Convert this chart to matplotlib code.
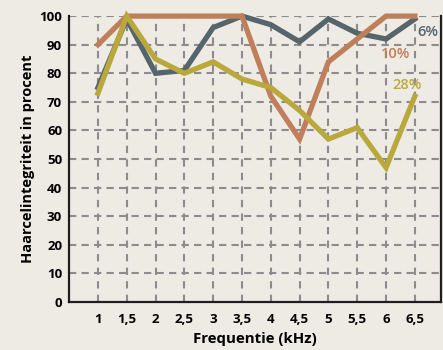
import matplotlib.pyplot as plt
import numpy as np

plt.rcParams['font.family'] = ['Open Sans', 'DejaVu Sans']

freq = [1, 1.5, 2, 2.5, 3, 3.5, 4, 4.5, 5, 5.5, 6, 6.5]
freq_labels = ['1', '1,5', '2', '2,5', '3', '3,5', '4', '4,5', '5', '5,5', '6', '6,5']
pct_6 = [75, 99, 80, 81, 96, 100, 97, 91, 99, 94, 92, 99]
pct_10 = [90, 100, 100, 100, 100, 100, 72, 57, 84, 92, 100, 100]
pct_28 = [73, 100, 85, 80, 84, 78, 75, 67, 57, 61, 47, 72]
series_names = ['6%', '10%', '28%']

bg = '#eeeae4'
colors = ['#56646c', '#c07f5b', '#b9a93c']

fig = plt.figure(figsize=(4.43, 3.5), dpi=100, facecolor=bg)
ax = fig.add_axes([0.156, 0.137, 0.839, 0.817], facecolor=bg)

for x in freq:
    ax.axvline(x, color='#8c8c8c', lw=1.5, ls=(0, (3.5, 3)), zorder=1)
for y in range(10, 101, 10):
    ax.axhline(y, color='#8c8c8c', lw=1.5, ls=(0, (3.5, 2.5)), zorder=1)

for vals, c in zip([pct_6, pct_10, pct_28], colors):
    ax.plot(freq, vals, color=c, lw=3.8, solid_joinstyle='miter', clip_on=False, zorder=3)

# series names placed next to the right-hand end of each line
label_pos = [(6.55, 94.5), (6.17, 86.7), (6.36, 76)]
for name, c, (lx, ly) in zip(series_names, colors, label_pos):
    ax.text(lx, ly, name, color=c, fontsize=10.5, fontweight='semibold', va='center',
            ha='left' if name == '6%' else 'center', zorder=4)

ax.set_xlim(0.5, 6.95)
ax.set_ylim(0, 100)
ax.set_xticks(freq)
ax.set_xticklabels(freq_labels)
ax.set_yticks(range(0, 101, 10))
ax.tick_params(axis='x', length=0, pad=8, labelsize=9.5)
ax.tick_params(axis='y', length=0, pad=5, labelsize=9.5)
for lab in ax.get_xticklabels() + ax.get_yticklabels():
    lab.set_fontweight('bold')

for s in ['left', 'bottom', 'right']:
    ax.spines[s].set_linewidth(1.6)
    ax.spines[s].set_color('#1e1e1e')
ax.spines['top'].set_visible(False)

ax.set_xlabel('Frequentie (kHz)', fontsize=10.8, fontweight='bold', labelpad=4)
ax.set_ylabel('Haarcelintegriteit in procent', fontsize=10.5, fontweight='bold', labelpad=3)

fig.savefig('out.png', dpi=100, facecolor=bg)
